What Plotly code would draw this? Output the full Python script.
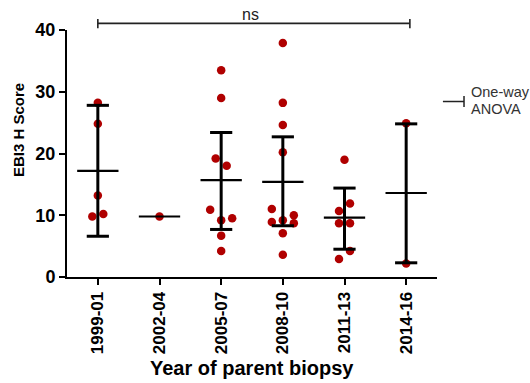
import math
import plotly.graph_objects as go

# ---------------- data ----------------
categories = ["1999-01", "2002-04", "2005-07", "2008-10", "2011-13", "2014-16"]
v1999 = [28.2, 24.8, 13.2, 9.8, 10.2]
v2002 = [9.8]
v2005 = [33.5, 29.0, 19.2, 18.0, 10.9, 9.2, 9.5, 6.7, 4.2]
v2008 = [37.9, 28.2, 24.6, 20.2, 11.0, 10.0, 8.9, 9.2, 8.7, 7.1, 3.6]
v2011 = [19.0, 10.7, 11.9, 8.7, 8.7, 2.9, 4.2]
v2014 = [24.9, 2.2]
group_values = [v1999, v2002, v2005, v2008, v2011, v2014]

means = [17.2, 9.8, 15.7, 15.4, 9.6, 13.6]
upper = [27.8, None, 23.4, 22.7, 14.4, 24.8]
lower = [6.6, None, 7.7, 8.3, 4.5, 2.3]

y_ticks = [0, 10, 20, 30, 40]

# ---------------- geometry / style ----------------
W, H = 530, 383
ML, MR, MT, MB = 67, 93, 30, 106
XR = [-0.5, 5.5]
YR = [0, 40]
px_x = (W - ML - MR) / (XR[1] - XR[0])
px_y = (H - MT - MB) / (YR[1] - YR[0])
FONT = "Liberation Sans, Arial, Helvetica, sans-serif"
RED = "#B00000"


def swarm(vals, s=11.0, D=7.8, th=1.75):
    n = len(vals)
    order = sorted(range(n), key=lambda i: -vals[i])
    rows = []
    for i in order:
        if rows and vals[rows[-1][0]] - vals[i] <= th:
            rows[-1].append(i)
        else:
            rows.append([i])
    offs = [0.0] * n
    placed = []
    for row in reversed(rows):
        row = sorted(row)
        nr = len(row)
        cand = {}
        for mult in (1, 2, 3):
            cand = {i: (k - (nr - 1) / 2) * s * mult for k, i in enumerate(row)}
            ok = all(math.hypot(cand[i] - offs[j], (vals[i] - vals[j]) * px_y) >= D
                     for i in row for j in placed)
            if ok:
                break
        for i in row:
            offs[i] = cand[i]
            placed.append(i)
    return [o / px_x for o in offs]


fig = go.Figure()

# points
px, py = [], []
for gi, vals in enumerate(group_values):
    offs = swarm(vals)
    for v, o in zip(vals, offs):
        px.append(gi + o)
        py.append(v)
fig.add_trace(go.Scatter(x=px, y=py, mode="markers",
                         marker=dict(color=RED, size=8.5, line=dict(width=0)),
                         showlegend=False, hoverinfo="skip"))

# error bars (vertical + caps)
cap = 0.18
ex, ey = [], []
for gi, (lo, hi) in enumerate(zip(lower, upper)):
    if lo is None or hi is None:
        continue
    ex += [gi, gi, None, gi - cap, gi + cap, None, gi - cap, gi + cap, None]
    ey += [lo, hi, None, hi, hi, None, lo, lo, None]
fig.add_trace(go.Scatter(x=ex, y=ey, mode="lines",
                         line=dict(color="black", width=3),
                         showlegend=False, hoverinfo="skip"))

# mean lines
mh = 0.335
mx, my = [], []
for gi, m in enumerate(means):
    mx += [gi - mh, gi + mh, None]
    my += [m, m, None]
fig.add_trace(go.Scatter(x=mx, y=my, mode="lines",
                         line=dict(color="black", width=2.2),
                         showlegend=False, hoverinfo="skip"))

# ns bracket
yb = 1.027
shapes = [
    dict(type="line", xref="x", yref="paper", x0=0, x1=5.06, y0=yb, y1=yb,
         line=dict(color="#222", width=1.6)),
    dict(type="line", xref="x", yref="paper", x0=0, x1=0, y0=yb - 0.02, y1=yb + 0.018,
         line=dict(color="#222", width=1.6)),
    dict(type="line", xref="x", yref="paper", x0=5.06, x1=5.06, y0=yb - 0.02, y1=yb + 0.018,
         line=dict(color="#222", width=1.6)),
    # One-way ANOVA key
    dict(type="line", xref="paper", yref="paper", x0=1.016, x1=1.073, y0=0.7105, y1=0.7105,
         line=dict(color="#222", width=1.5)),
    dict(type="line", xref="paper", yref="paper", x0=1.073, x1=1.073, y0=0.688, y1=0.733,
         line=dict(color="#222", width=1.5)),
]

annotations = [
    dict(text="ns", xref="x", yref="paper", x=2.48, y=1.062, showarrow=False,
         xanchor="center", yanchor="middle", font=dict(family=FONT, size=16, color="#222")),
    dict(text="One-way", xref="paper", yref="paper", x=1.087, y=(277 - 92) / 247,
         showarrow=False, xanchor="left", yanchor="middle",
         font=dict(family=FONT, size=14.5, color="#333")),
    dict(text="ANOVA", xref="paper", yref="paper", x=1.087, y=(277 - 109) / 247,
         showarrow=False, xanchor="left", yanchor="middle",
         font=dict(family=FONT, size=14.5, color="#333")),
    dict(text="EBI3 H Score", xref="paper", yref="paper", x=(18 - ML) / (W - ML - MR),
         y=(277 - 130) / 247, textangle=-90, showarrow=False, xanchor="center",
         yanchor="middle", font=dict(family=FONT, size=15, color="black", weight="bold")),
    dict(text="Year of parent biopsy", xref="paper", yref="paper", x=0.5,
         y=(277 - 368) / 247, showarrow=False, xanchor="center", yanchor="middle",
         font=dict(family=FONT, size=20, color="black", weight="bold")),
]

fig.update_layout(
    width=W, height=H,
    margin=dict(l=ML, r=MR, t=MT, b=MB, pad=0),
    paper_bgcolor="white", plot_bgcolor="white",
    shapes=shapes, annotations=annotations,
    font=dict(family=FONT),
)
fig.update_xaxes(range=XR, tickvals=list(range(len(categories))), ticktext=categories,
                 tickangle=-90, showgrid=False, zeroline=False,
                 showline=True, linecolor="black", linewidth=2,
                 ticks="outside", ticklen=6, tickwidth=2, tickcolor="black",
                 tickfont=dict(family=FONT, size=17, color="black", weight="bold"))
fig.update_yaxes(range=YR, tickvals=y_ticks, showgrid=False, zeroline=False,
                 showline=True, linecolor="black", linewidth=2,
                 ticks="outside", ticklen=6, tickwidth=2, tickcolor="black",
                 tickfont=dict(family=FONT, size=18, color="black", weight="bold"))

fig.write_html("out.html")
